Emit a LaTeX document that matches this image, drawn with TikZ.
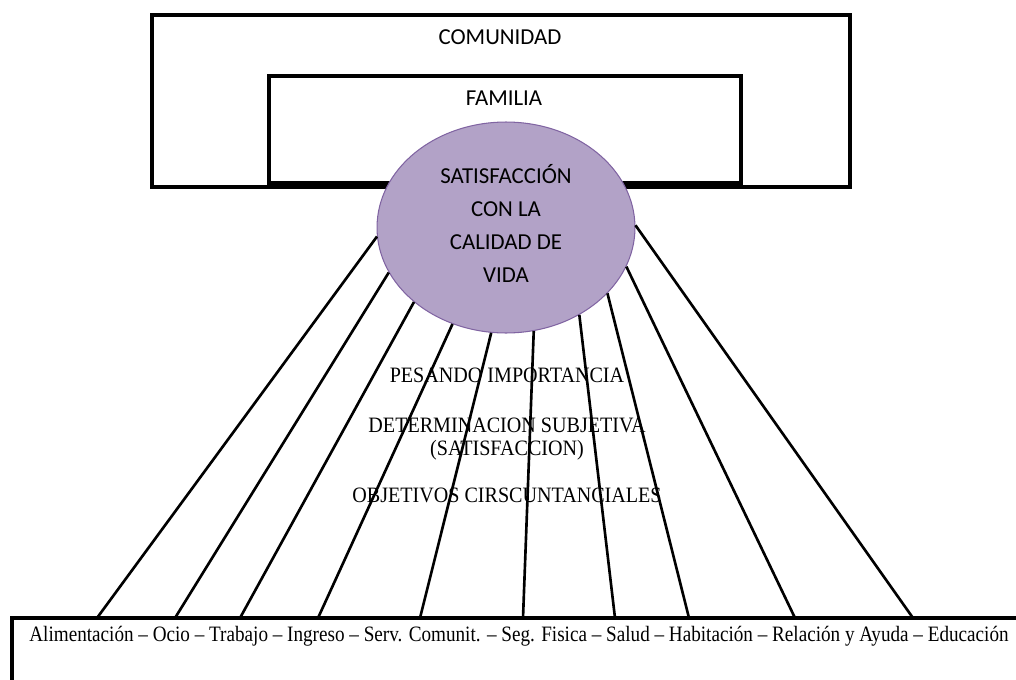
\documentclass[tikz,border=0pt]{standalone}
\usepackage{fontspec}
\setmainfont{Liberation Serif}
\newfontfamily\calibri{Carlito}
\newfontfamily\tiempos[FakeStretch=0.915]{Liberation Serif}
\newfontfamily\tiemposb[FakeStretch=0.872]{Liberation Serif}
\usetikzlibrary{shapes.geometric}
\definecolor{lila}{HTML}{B2A2C7}
\definecolor{lilaborde}{HTML}{8064A2}

\begin{document}
\begin{tikzpicture}[x=0.02cm,y=-0.02cm,
    caja/.style={draw,line width=2.3pt},
    conector/.style={line width=1.5pt},
    titulo/.style={font=\calibri\fontsize{13}{18.7}\selectfont,align=center},
    nota/.style={font=\tiempos\fontsize{12.5}{13}\selectfont,anchor=base}]
    \useasboundingbox (0,0) rectangle (1016,679);
    \clip (0,0) rectangle (1016,679);
    % comunidad y familia
    \draw[caja] (152,15) rectangle (850,187);
    \draw[caja] (269,76) rectangle (741,183);
    \node(comunidad)[titulo] at (500,37) {COMUNIDAD};
    \node(familia)[titulo] at (504,98) {FAMILIA};
    % caja de abajo
    \draw[caja,line width=2.6pt] (12,618) rectangle (1040,720);
    \node(areas)[font=\tiemposb\fontsize{12.5}{13}\selectfont,anchor=base] at (519,641)
        {Alimentación – Ocio – Trabajo – Ingreso – Serv. Comunit. – Seg. Fisica – Salud – Habitación – Relación y Ayuda – Educación};
    \node(vida)[ellipse,draw=lilaborde,fill=lila,line width=0.6pt,minimum width=5.16cm,
        minimum height=4.22cm,inner sep=0pt,titulo,text depth=0.16cm] at (506,227.5)
        {SATISFACCIÓN\\CON LA\\CALIDAD DE\\VIDA};
    \foreach \ang/\px [count=\i] in {184.6/97,201.5/175,219.4/240,241.2/318,262.9/420,
        285.4/523,310.8/615,327/689,342.5/795,1.6/913}
        {\coordinate(p\i) at (\px,618); \draw[conector] (vida.\ang) -- (p\i);}
    \node(pesando)[nota] at (507,382) {PESANDO IMPORTANCIA};
    \node(determina)[nota] at (507,432) {DETERMINACION SUBJETIVA};
    \node(satisf)[nota] at (507,455) {(SATISFACCION)};
    \node(objetivos)[nota] at (507,502) {OBJETIVOS CIRSCUNTANCIALES};
\end{tikzpicture}
\end{document}
